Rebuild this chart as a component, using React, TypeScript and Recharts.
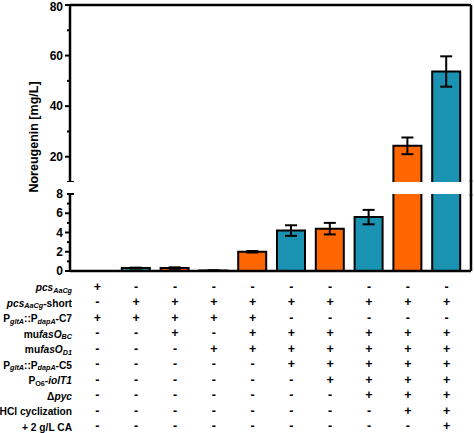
import React from 'react'
import { BarChart, Bar, XAxis, YAxis, ErrorBar } from 'recharts'

// strains 1..10, noreugenin titer [mg/L] and SD
const strains = ['1', '2', '3', '4', '5', '6', '7', '8', '9', '10']
const titer = [0, 0.3, 0.3, 0.05, 2.0, 4.2, 4.4, 5.6, 24.3, 53.7]
const titerSd = [0, 0.05, 0.08, 0.02, 0.08, 0.55, 0.6, 0.75, 3.3, 6.0]
const barColors = ['#FF6600', '#1A93B3']

const upperTicks = [10, 20, 30, 40, 50, 60, 70, 80]
const lowerTicks = [0, 1, 2, 3, 4, 5, 6, 7, 8]

// genotype table under the chart
const rowLabels = [
  [['pcs', 'i'], ['AaCg', 'si']],
  [['pcs', 'i'], ['AaCg', 'si'], ['-short', '']],
  [['P', ''], ['gltA', 'si'], ['::P', ''], ['dapA', 'si'], ['-C7', '']],
  [['mu', ''], ['fasO', 'i'], ['BC', 'si']],
  [['mu', ''], ['fasO', 'i'], ['D1', 'si']],
  [['P', ''], ['gltA', 'si'], ['::P', ''], ['dapA', 'si'], ['-C5', '']],
  [['P', ''], ['O6', 's'], ['-', ''], ['iolT1', 'i']],
  [['\u0394', ''], ['pyc', 'i']],
  [['HCl cyclization', '']],
  [['+ 2 g/L CA', '']],
]
const rowMarks = [
  '+---------',
  '-+++++++++',
  '+++++-----',
  '--+-++++++',
  '---+++++++',
  '-----+++++',
  '------++++',
  '-------+++',
  '--------++',
  '---------+',
]

const upperData = strains.map((s, i) => ({
  name: s,
  v: titer[i] >= 10 ? titer[i] : null,
  e: titer[i] >= 10 ? titerSd[i] : null,
}))
const lowerData = strains.map((s, i) => ({
  name: s,
  v: titer[i],
  e: titer[i] < 10 ? titerSd[i] : null,
}))

const FONT = '"Liberation Sans", Arial, sans-serif'
const AXIS_W = 2.5
const xPad = { left: 8, right: 5 }
const ROW_H = 15.55

const OutlinedBar = (props: any) => {
  const { x, y, width, height, index } = props
  if (!height || height <= 0) return null
  const fill = barColors[index % 2]
  return (
    <g>
      <rect x={x} y={y} width={width} height={height} fill={fill} />
      <path
        d={`M${x},${y + height} L${x},${y} L${x + width},${y} L${x + width},${y + height}`}
        fill="none"
        stroke="#000"
        strokeWidth={2}
      />
    </g>
  )
}

const makeYTick = (capValue: number, labelled: (v: number) => boolean) => (props: any) => {
  const { x, y, payload } = props
  const v = payload.value
  const major = labelled(v) || v === capValue
  return (
    <g>
      {v === capValue ? (
        <line x1={x - 3} x2={x + 4} y1={y} y2={y} stroke="#000" strokeWidth={2} />
      ) : (
        <line x1={x - (major ? 5 : 3)} x2={x} y1={y} y2={y} stroke="#000" strokeWidth={2} />
      )}
      {labelled(v) && (
        <text x={x - 7} y={Math.max(y, 6.5)} textAnchor="end" dominantBaseline="central" fontSize={12} fontWeight="bold" fontFamily={FONT} fill="#000">
          {v}
        </text>
      )}
    </g>
  )
}

const UpperTick = makeYTick(10, (v) => v % 20 === 0)
const LowerTick = makeYTick(8, (v) => v % 2 === 0)

const TableTick = (props: any) => {
  const { x, y, index } = props
  return (
    <g>
      {rowMarks.map((row, r) => (
        <text key={r} x={x} y={y + 15.5 + r * ROW_H} textAnchor="middle" dominantBaseline="central" fontSize={12.5} fontWeight="bold" fontFamily={FONT} fill="#000">
          {row[index]}
        </text>
      ))}
    </g>
  )
}

const RowLabel = ({ parts, y }: { parts: string[][]; y: number }) => (
  <text x={72} y={y} textAnchor="end" dominantBaseline="central" fontSize={10.2} fontWeight="bold" fontFamily={FONT} fill="#000">
    {parts.map(([t, st], k) => {
      const sub = st.includes('s')
      const prevSub = k > 0 && parts[k - 1][1].includes('s')
      const dy = sub && !prevSub ? 2.5 : !sub && prevSub ? -2.5 : 0
      return (
        <tspan key={k} dy={dy} fontSize={sub ? 7.2 : 10.2} fontStyle={st.includes('i') ? 'italic' : 'normal'}>
          {t}
        </tspan>
      )
    })}
  </text>
)

export default function App() {
  return (
    <div style={{ position: 'absolute', left: 0, top: 0, width: 474, height: 433, background: '#fff' }}>
      <div style={{ position: 'absolute', left: 0, top: 0 }}>
        <BarChart width={474} height={182} data={upperData} margin={{ top: 4, right: 2, left: 0, bottom: 0 }} barSize={28}>
          <XAxis dataKey="name" orientation="top" height={1} tick={false} tickLine={false} padding={xPad} axisLine={{ stroke: '#000', strokeWidth: AXIS_W }} />
          <YAxis yAxisId="l" width={70} domain={[10, 80]} ticks={upperTicks} interval={0} allowDataOverflow tickSize={0} tickMargin={0} tickLine={false} tick={UpperTick} axisLine={{ stroke: '#000', strokeWidth: AXIS_W }} />
          <YAxis yAxisId="r" orientation="right" width={1} tick={false} tickLine={false} axisLine={{ stroke: '#000', strokeWidth: AXIS_W }} />
          <Bar yAxisId="l" dataKey="v" shape={OutlinedBar} isAnimationActive={false}>
            <ErrorBar dataKey="e" width={6} stroke="#000" strokeWidth={2} direction="y" />
          </Bar>
        </BarChart>
      </div>
      <div style={{ position: 'absolute', left: 0, top: 186 }}>
        <BarChart width={474} height={247} data={lowerData} margin={{ top: 8, right: 2, left: 0, bottom: 0 }} barSize={28}>
          <XAxis dataKey="name" height={162} tickSize={0} tickMargin={0} tickLine={false} tick={TableTick} interval={0} padding={xPad} axisLine={{ stroke: '#000', strokeWidth: AXIS_W }} />
          <YAxis yAxisId="l" width={70} domain={[0, 8]} ticks={lowerTicks} interval={0} allowDataOverflow tickSize={0} tickMargin={0} tickLine={false} tick={LowerTick} axisLine={{ stroke: '#000', strokeWidth: AXIS_W }} />
          <YAxis yAxisId="r" orientation="right" width={1} tick={false} tickLine={false} axisLine={{ stroke: '#000', strokeWidth: AXIS_W }} />
          <Bar yAxisId="l" dataKey="v" shape={OutlinedBar} isAnimationActive={false}>
            <ErrorBar dataKey="e" width={6} stroke="#000" strokeWidth={2} direction="y" />
          </Bar>
        </BarChart>
      </div>
      <svg width={474} height={433} style={{ position: 'absolute', left: 0, top: 0, pointerEvents: 'none' }}>
        <line x1={471} x2={471} y1={180} y2={196} stroke="#000" strokeWidth={AXIS_W} />
        <text x={34} y={137} transform="rotate(-90 34 137)" textAnchor="middle" dominantBaseline="central" fontSize={12.5} fontWeight="bold" fontFamily={FONT} fill="#000">
          Noreugenin [mg/L]
        </text>
        {rowLabels.map((parts, r) => (
          <RowLabel key={r} parts={parts} y={287 + r * ROW_H} />
        ))}
      </svg>
    </div>
  )
}
